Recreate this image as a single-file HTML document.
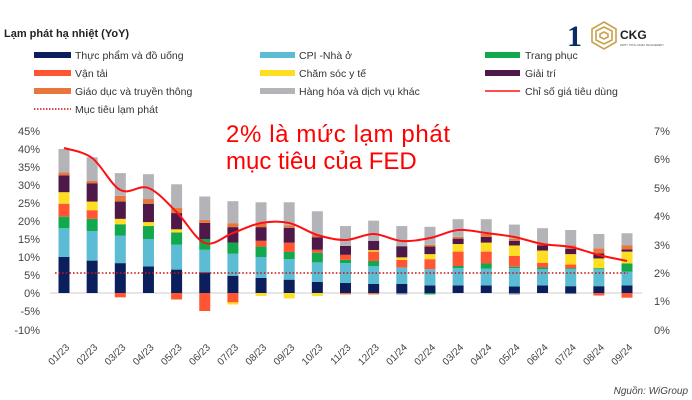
<!DOCTYPE html>
<html><head><meta charset="utf-8"><style>
body{margin:0;background:#fff;}
svg{display:block;font-family:"Liberation Sans","Noto Sans CJK JP",sans-serif;}
</style></head><body>
<svg id="s" width="692" height="400" xmlns="http://www.w3.org/2000/svg">
<text x="4" y="37" font-size="11" font-weight="bold" fill="#222">Lạm phát hạ nhiệt (YoY)</text>
<g font-size="10.5" fill="#333">
<rect x="34" y="52" width="37" height="6" fill="#0b1f5c"/><text x="75" y="59">Thực phẩm và đồ uống</text>
<rect x="260" y="52" width="35" height="6" fill="#5bbcd4"/><text x="299" y="59">CPI -Nhà ở</text>
<rect x="485" y="52" width="35" height="6" fill="#12a84e"/><text x="525" y="59">Trang phục</text>
<rect x="34" y="70" width="37" height="6" fill="#ff5533"/><text x="75" y="77">Vận tải</text>
<rect x="260" y="70" width="35" height="6" fill="#ffdd22"/><text x="299" y="77">Chăm sóc y tế</text>
<rect x="485" y="70" width="35" height="6" fill="#4e1848"/><text x="525" y="77">Giải trí</text>
<rect x="34" y="88" width="37" height="6" fill="#e8763a"/><text x="75" y="95">Giáo dục và truyền thông</text>
<rect x="260" y="88" width="35" height="6" fill="#b4b4b8"/><text x="299" y="95">Hàng hóa và dịch vụ khác</text>
<line x1="485" y1="91" x2="520" y2="91" stroke="#ff1010" stroke-width="1.5"/><text x="525" y="95">Chỉ số giá tiêu dùng</text>
<line x1="34" y1="109" x2="71" y2="109" stroke="#d01010" stroke-width="1.5" stroke-dasharray="1.5,1.5"/><text x="75" y="113">Mục tiêu lạm phát</text>
</g>
<text x="567" y="46" font-size="30" font-weight="bold" fill="#0b2a6b" font-family="Liberation Serif,serif">1</text>
<g fill="none" stroke="#c9a14a" stroke-width="1.6">
<polygon points="604,22 616,29 616,42 604,49 592,42 592,29"/>
<polygon points="604,27 612,31 612,40 604,44 596,40 596,31"/>
<polygon points="604,32 608,34 608,37 604,39 600,37 600,34"/>
</g>
<text x="620" y="39" font-size="12" font-weight="bold" fill="#222">CKG</text>
<text x="620" y="46" font-size="2.5" fill="#555">PARTY TOTAL ASSET MANAGEMENT</text>
<g font-size="11" fill="#444" text-anchor="end">
<text x="40" y="135">45%</text><text x="40" y="153">40%</text><text x="40" y="171">35%</text><text x="40" y="189">30%</text><text x="40" y="207">25%</text><text x="40" y="225">20%</text><text x="40" y="243">15%</text><text x="40" y="261">10%</text><text x="40" y="279">5%</text><text x="40" y="297">0%</text><text x="40" y="315">-5%</text><text x="40" y="334">-10%</text>
</g>
<g font-size="11" fill="#444">
<text x="654" y="135">7%</text><text x="654" y="163">6%</text><text x="654" y="192">5%</text><text x="654" y="220">4%</text><text x="654" y="249">3%</text><text x="654" y="277">2%</text><text x="654" y="305">1%</text><text x="654" y="334">0%</text>
</g>
<line x1="50" y1="293" x2="642" y2="293" stroke="#ddd" stroke-width="1.5"/>
<g id="bars"></g>
<line x1="55" y1="273" x2="628" y2="273" stroke="#d01010" stroke-width="1.6" stroke-dasharray="1.6,2"/>
<path id="ln" fill="none" stroke="#ff1010" stroke-width="2"/>
<text x="226" y="142" font-size="24" fill="#ff0000" textLength="224" lengthAdjust="spacing">2% là mức lạm phát</text>
<text x="226" y="169" font-size="24" fill="#ff0000">mục tiêu của FED</text>
<g id="xl" font-size="10" fill="#444" text-anchor="end"></g>
<text x="688" y="394" font-size="10" font-style="italic" fill="#444" text-anchor="end">Nguồn: WiGroup</text>
</svg>
<script>
var C=["#0b1f5c","#5bbcd4","#12a84e","#ff5533","#ffdd22","#4e1848","#e8763a","#b4b4b8"];
var D=[
[[10,18,21.2,24.8,28,32.7,33.5,40],[]],
[[9,17.2,20.6,23,25.4,30.5,31.2,37.7],[]],
[[8.3,15.9,19.1,19.1,20.6,25.4,27,33.3],[[3,1.2]]],
[[7.4,15,18.6,18.6,19.7,24.8,26.1,33],[]],
[[6.5,13.4,16.8,16.8,17.7,22.2,23.6,30.2],[[3,1.8]]],
[[5.7,12,15,15,15,19.5,20.3,26.8],[[3,5]]],
[[4.8,10.9,14,14,14,18.3,19.4,25.5],[[3,2.6],[4,0.6]]],
[[4.2,10,12.9,14.5,14.5,18.3,19.4,25.2],[[4,0.8]]],
[[3.7,9.4,11.4,14,14,18.1,18.8,25.2],[[4,1.5]]],
[[3.1,8.5,11.2,12,12,15.5,16.1,22.7],[[4,0.8]]],
[[2.8,8.3,9.2,10.6,10.6,13.1,13.1,18.6],[[6,0.4]]],
[[2.5,7.5,8.9,11.5,11.9,14.5,14.5,20.1],[[6,0.4]]],
[[2.5,7.1,7.1,9.2,9.9,13,13,18.6],[["#7a86a8",0.4]]],
[[2.1,6.6,6.6,9.4,10.8,12.9,13.4,18.4],[[2,0.4]]],
[[2.1,6.9,7.5,11.5,13.6,15.1,15.6,20.5],[]],
[[2.1,6.8,8.2,11.5,14,15.6,16.4,20.5],[]],
[[1.8,6.9,7.3,10.3,13.2,14.5,15.1,19],[["#7a86a8",0.4]]],
[[2.1,6.6,7.1,8.4,11.8,13.2,13.8,18],[]],
[[1.9,6.6,6.9,7.9,10.8,12.3,13.2,17.5],[["#7a86a8",0.3]]],
[[1.9,6.6,6.9,6.9,9.6,11,12.4,16.4],[[3,0.7]]],
[[2.1,5.9,8.2,8.2,11.5,12.1,13.2,16.6],[[3,1.3]]]];
var L=[148,158,190,188,212,243,233,223,223,235,240,234,241,238,230,233,237,244,247,255,261];
var lab=["01/23","02/23","03/23","04/23","05/23","06/23","07/23","08/23","09/23","10/23","11/23","12/23","01/24","02/24","03/24","04/24","05/24","06/24","07/24","08/24","09/24"];
var ns="http://www.w3.org/2000/svg",g=document.getElementById("bars"),xl=document.getElementById("xl");
function R(x,y,w,h,f){var r=document.createElementNS(ns,"rect");r.setAttribute("x",x);r.setAttribute("y",y);r.setAttribute("width",w);r.setAttribute("height",Math.max(h,0));r.setAttribute("fill",f);g.appendChild(r);}
var pts=[];
D.forEach(function(d,i){var cx=64+i*28.15,prev=0;
d[0].forEach(function(v,k){if(v>prev){R(cx-5.5,293-v*3.6,11,(v-prev)*3.6,C[k]);prev=v;}});
var n=0;d[1].forEach(function(s){var col=typeof s[0]=="number"?C[s[0]]:s[0];R(cx-5.5,293+n*3.6,11,s[1]*3.6,col);n+=s[1];});
pts.push([cx,L[i]]);
xl.innerHTML+='<text transform="translate('+(cx+6)+',348) rotate(-45)">'+lab[i]+'</text>';});
var p="M"+pts[0];for(var i=0;i<pts.length-1;i++){var a=pts[Math.max(i-1,0)],b=pts[i],c=pts[i+1],d=pts[Math.min(i+2,pts.length-1)];
p+=" C"+(b[0]+(c[0]-a[0])/6)+","+(b[1]+(c[1]-a[1])/6)+" "+(c[0]-(d[0]-b[0])/6)+","+(c[1]-(d[1]-b[1])/6)+" "+c[0]+","+c[1];}
document.getElementById("ln").setAttribute("d",p);
</script>
</body></html>
